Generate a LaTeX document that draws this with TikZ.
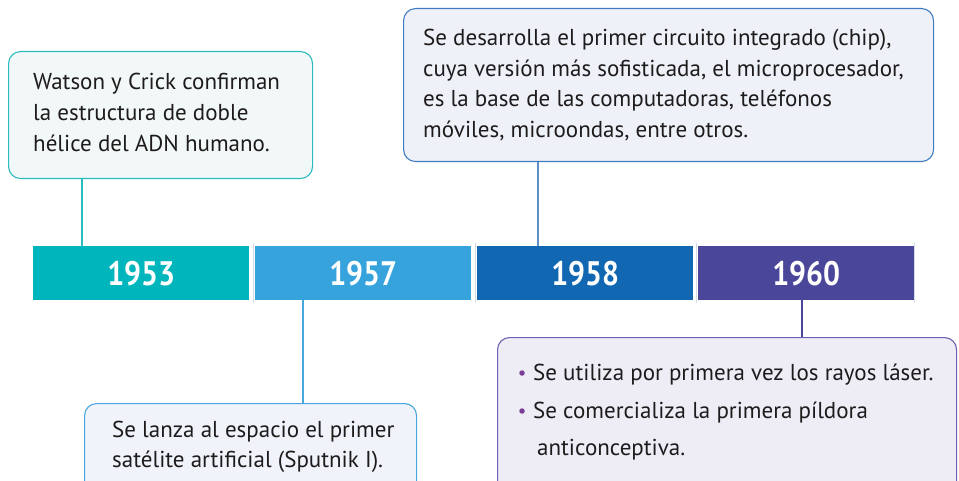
\documentclass[tikz,border=0pt]{standalone}
\usepackage{fontspec}
\setmainfont{PT Sans}
\newfontfamily\yearfont[FakeStretch=0.88]{PT Sans}
\definecolor{cA}{HTML}{00B6BC}
\definecolor{cB}{HTML}{36A3DC}
\definecolor{cC}{HTML}{1167B1}
\definecolor{cD}{HTML}{4A479A}
\definecolor{txt}{HTML}{1E1B1C}
\definecolor{fA}{HTML}{F2F8F8}
\definecolor{fB}{HTML}{F0F3FA}
\definecolor{fC}{HTML}{EFF1F8}
\definecolor{fD}{HTML}{EEEDF6}
\definecolor{bA}{HTML}{2BBCC0}
\definecolor{bB}{HTML}{4AA6DF}
\definecolor{bC}{HTML}{3F7DC0}
\definecolor{bD}{HTML}{6A63B0}
\definecolor{bullet}{HTML}{7B3F98}
\definecolor{sep}{HTML}{D6DCE6}
\tikzset{
  yearbar/.style={draw=none, inner sep=0pt, minimum width=216pt, minimum height=54pt, anchor=north west,
    font=\yearfont\fontsize{34}{34}\selectfont\bfseries, text=white},
  infobox/.style={rounded corners=12pt, line width=1.1pt, inner sep=0pt, anchor=north west},
  line/.style={anchor=base west, inner sep=0pt, text=txt, font=\fontsize{23}{30}\selectfont},
  link/.style={line width=1.4pt},
  sepline/.style={draw=sep, line width=1pt},
}
\begin{document}
\begin{tikzpicture}[x=1pt,y=-1pt]
\useasboundingbox (0,0) rectangle (959,481);
\clip (0,0) rectangle (959,481);
\fill[white] (0,0) rectangle (959,481);
% year bars
\node[yearbar, fill=cA] (y1953) at (33,246) {1953};
\node[yearbar, fill=cB] (y1957) at (255,246) {1957};
\node[yearbar, fill=cC] (y1958) at (477,246) {1958};
\node[yearbar, fill=cD] (y1960) at (698,246) {1960};
\coordinate (s1t) at (253.5,243); \coordinate (s1b) at (253.5,303);
\coordinate (s2t) at (475.5,243); \coordinate (s2b) at (475.5,303);
\coordinate (s3t) at (696.5,243); \coordinate (s3b) at (696.5,303);
\coordinate (s4t) at (914,243); \coordinate (s4b) at (914,303);
\draw[sepline] (s1t) -- (s1b);
\draw[sepline] (s2t) -- (s2b);
\draw[sepline] (s3t) -- (s3b);
\draw[sepline] (s4t) -- (s4b);
% boxes
\node[infobox, draw=bA, fill=fA, minimum width=304pt, minimum height=127pt] (b1953) at (8,51) {};
\node[infobox, draw=bC, fill=fC, minimum width=530pt, minimum height=153pt] (b1958) at (403,8) {};
\node[infobox, draw=bB, fill=fB, minimum width=332pt, minimum height=100pt] (b1957) at (84,403) {};
\node[infobox, draw=bD, fill=fD, minimum width=459pt, minimum height=170pt] (b1960) at (497,337) {};
% connectors
\draw[link, draw=bA] (b1953.south -| 82,0) -- (y1953.north -| 82,0);
\draw[link, draw=bB] (y1957.south -| 303,0) -- (b1957.north -| 303,0);
\draw[link, draw=bC!85!white] (b1958.south -| 538,0) -- (y1958.north -| 538,0);
\draw[link, draw=cD] (y1960.south -| 802,0) -- (b1960.north -| 802,0);
% texts
\node[line] (t1a) at (33,90) {Watson y Crick confirman};
\node[line] (t1b) at (33,121) {la estructura de doble};
\node[line] (t1c) at (33,152) {hélice del ADN humano.};
\node[line] (t2a) at (423,46) {Se desarrolla el primer circuito integrado (chip),};
\node[line] (t2b) at (423,76.5) {cuya versión más sofisticada, el microprocesador,};
\node[line] (t2c) at (423,107) {es la base de las computadoras, teléfonos};
\node[line] (t2d) at (423,137.5) {móviles, microondas, entre otros.};
\node[line] (t3a) at (112,437) {Se lanza al espacio el primer};
\node[line] (t3b) at (112,467) {satélite artificial (Sputnik I).};
\node[circle, fill=bullet, inner sep=0pt, minimum size=5.5pt] (d1) at (522,373) {};
\node[circle, fill=bullet, inner sep=0pt, minimum size=5.5pt] (d2) at (522,411) {};
\node[line] (t4a) at (533,380) {Se utiliza por primera vez los rayos láser.};
\node[line] (t4b) at (533,418) {Se comercializa la primera píldora};
\node[line] (t4c) at (537,455) {anticonceptiva.};
\end{tikzpicture}
\end{document}
